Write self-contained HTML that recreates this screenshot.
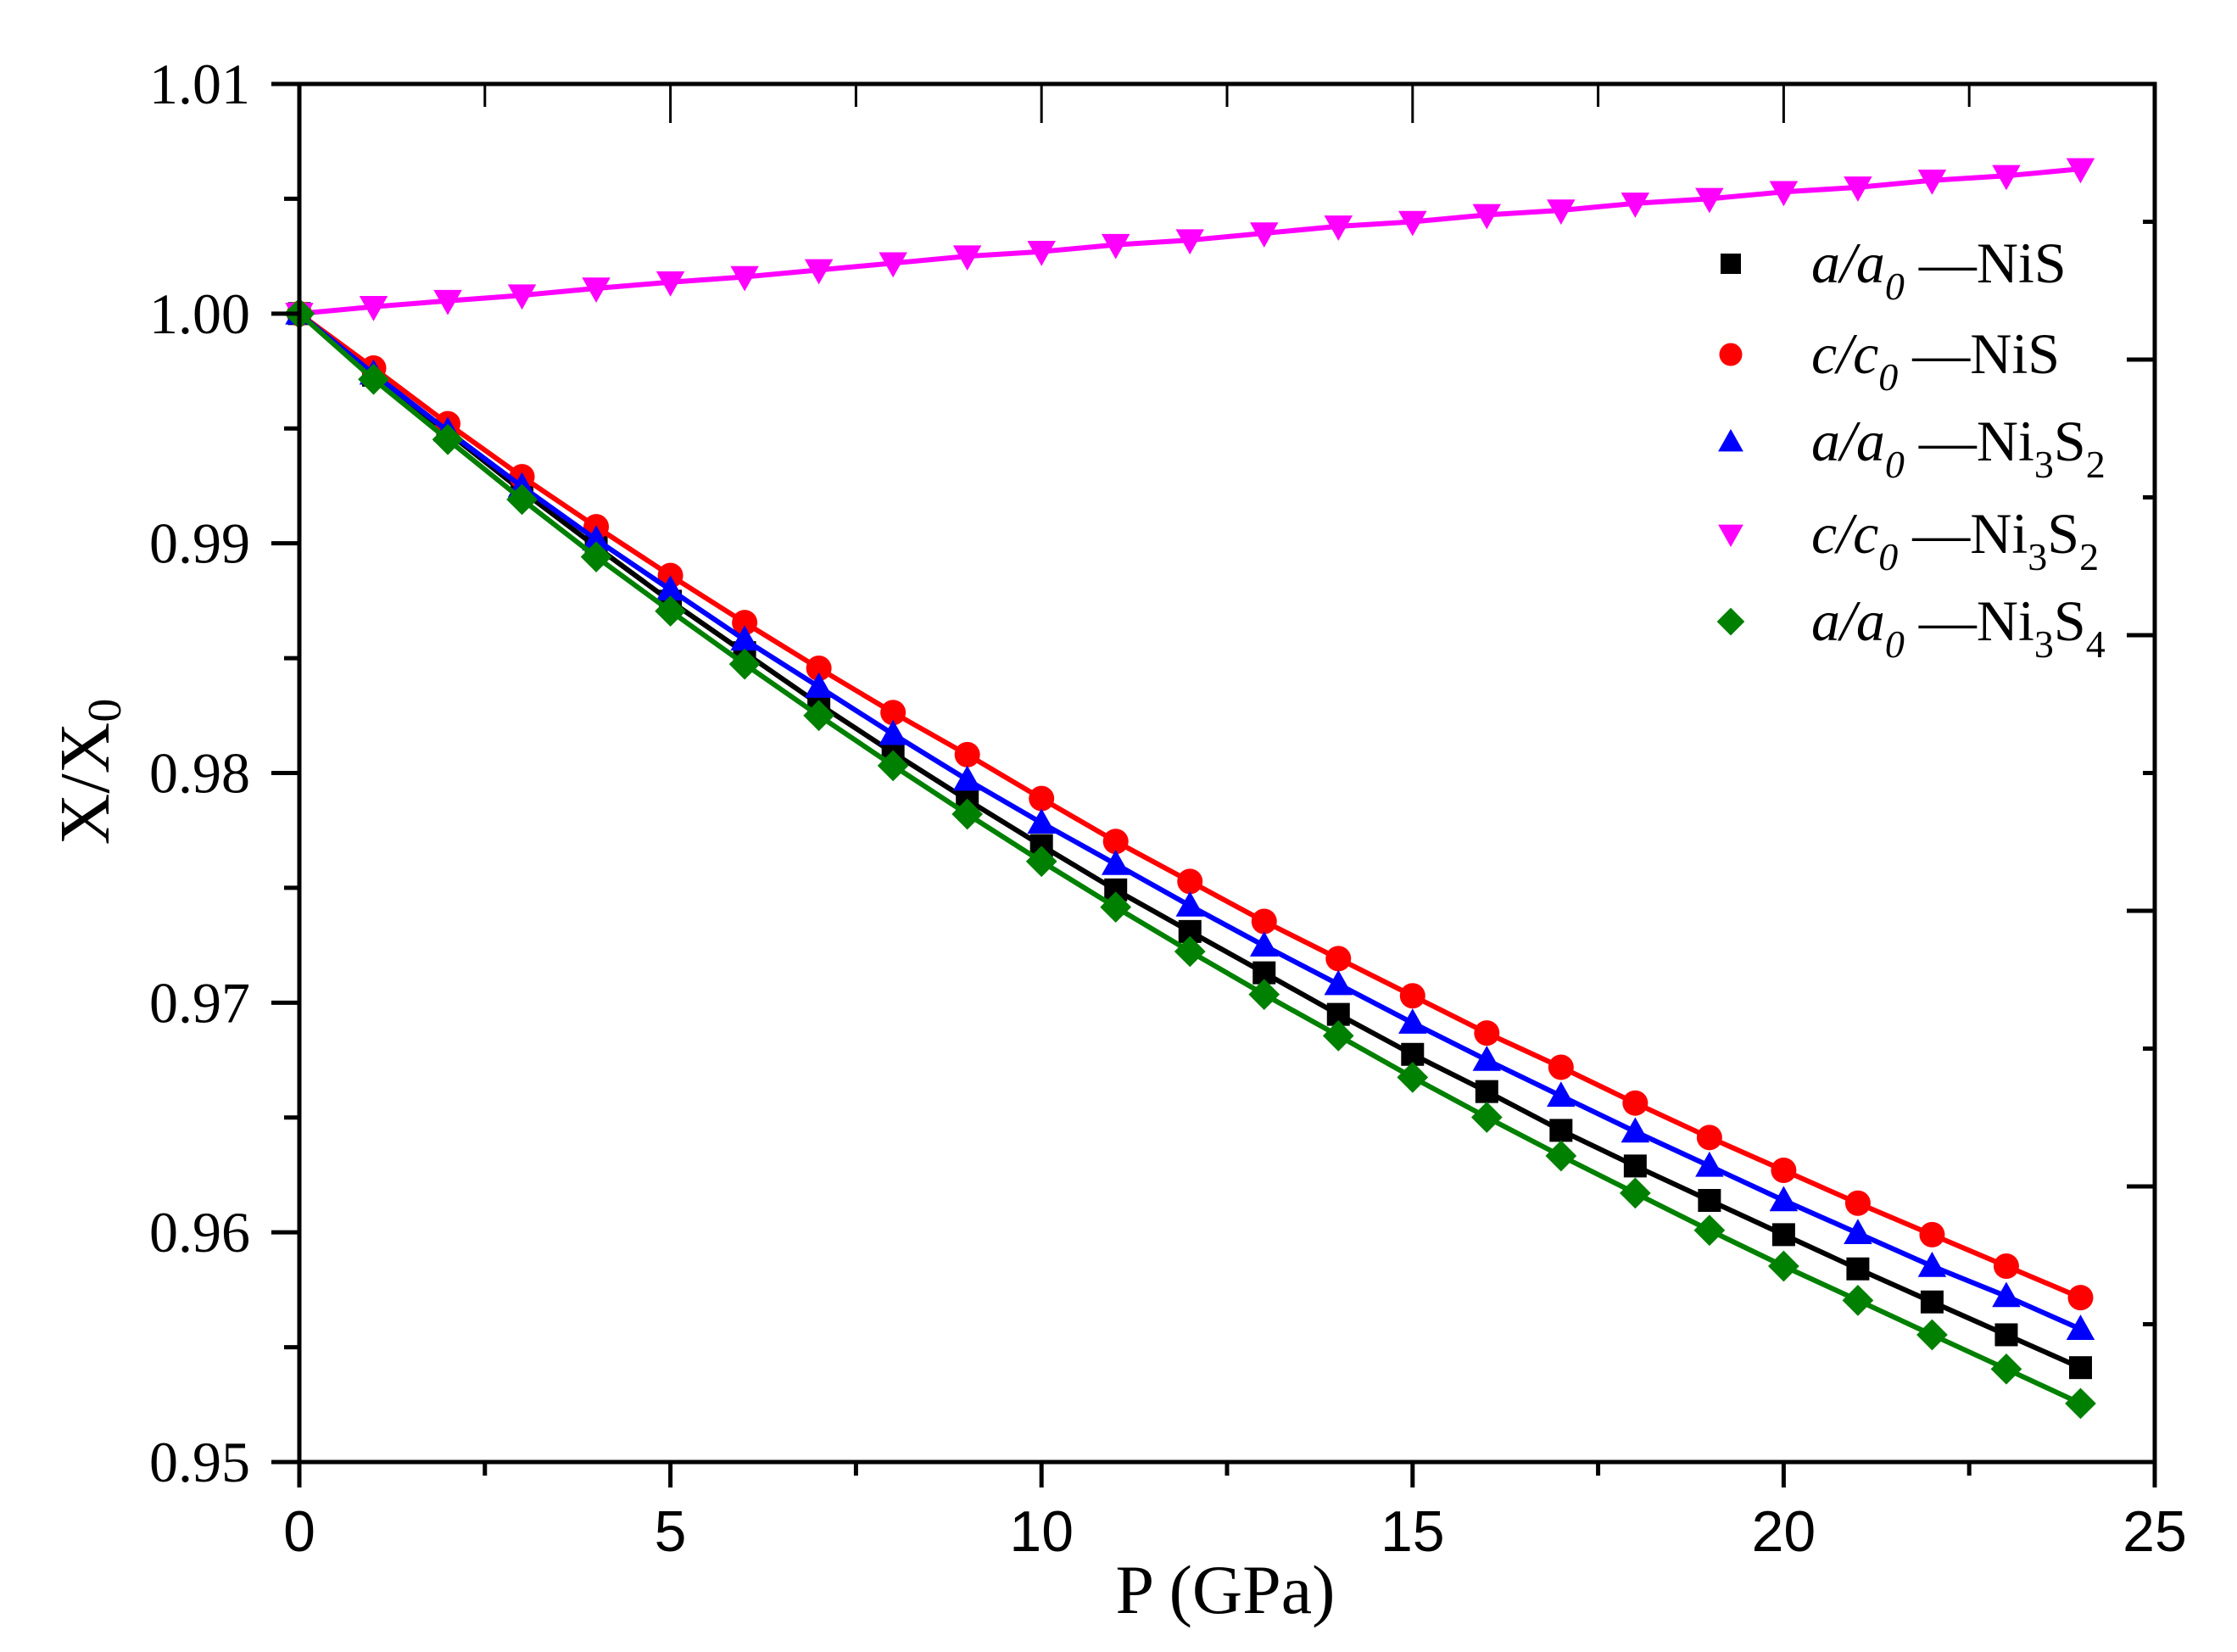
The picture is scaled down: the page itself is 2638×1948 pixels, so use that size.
<!DOCTYPE html>
<html>
<head>
<meta charset="utf-8">
<style>
  html,body{margin:0;padding:0;background:#fff;}
  svg{display:block;}
  .tnr{font-family:"Liberation Serif",serif;}
  .ari{font-family:"Liberation Sans",sans-serif;}
</style>
</head>
<body>
<svg id="chart" width="2638" height="1948" viewBox="0 0 2638 1948" xmlns="http://www.w3.org/2000/svg">
  <rect x="0" y="0" width="2638" height="1948" fill="#fff"/>
  <g id="series-layer"></g>
  <g id="axes-layer"></g>
  <text class="tnr" x="1445" y="1902" font-size="82" text-anchor="middle">P (GPa)</text>
  <text class="tnr" font-size="84" text-anchor="middle" transform="translate(128,910) rotate(-90)">X/X<tspan font-size="56" dy="14">0</tspan></text>
  <g id="legend"></g>
</svg>
<script>
const pressures = [0,1,2,3,4,5,6,7,8,9,10,11,12,13,14,15,16,17,18,19,20,21,22,23,24];
const aNiS = [1.0000,0.99732,0.99483,0.99228,0.98985,0.98748,0.98524,0.98300,0.98088,0.97883,0.97684,0.97491,0.97310,0.97130,0.96949,0.96775,0.96613,0.96444,0.96289,0.96139,0.95990,0.95841,0.95697,0.95554,0.95411];
const cNiS = [1.0000,0.99763,0.99521,0.99290,0.99072,0.98860,0.98655,0.98456,0.98263,0.98080,0.97889,0.97702,0.97528,0.97354,0.97192,0.97030,0.96868,0.96719,0.96563,0.96413,0.96270,0.96127,0.95990,0.95853,0.95716];
const aNi3S2 = [1.0000,0.99738,0.99489,0.99247,0.99016,0.98798,0.98580,0.98375,0.98169,0.97970,0.97783,0.97603,0.97422,0.97248,0.97080,0.96912,0.96750,0.96594,0.96438,0.96289,0.96139,0.95996,0.95853,0.95722,0.95579];
const cNi3S2 = [1.0000,1.0003,1.00056,1.0008,1.0011,1.00137,1.0016,1.0019,1.0022,1.0025,1.0027,1.0030,1.0032,1.0035,1.0038,1.0040,1.0043,1.0045,1.0048,1.0050,1.0053,1.0055,1.0058,1.0060,1.0063];
const aNi3S4 = [1.0000,0.99714,0.99452,0.99191,0.98941,0.98705,0.98474,0.98250,0.98032,0.97821,0.97615,0.97416,0.97223,0.97036,0.96856,0.96675,0.96501,0.96333,0.96171,0.96009,0.95853,0.95704,0.95554,0.95405,0.95255];
const xTickLabels = ["0","5","10","15","20","25"];
const yTickLabels = ["0.95","0.96","0.97","0.98","0.99","1.00","1.01"];

const NS = "http://www.w3.org/2000/svg";
const L = 353, R = 2541, T = 99, B = 1724;
const xMin = 0, xMax = 25, yMin = 0.95, yMax = 1.01;
function sx(v){ return L + (v - xMin) / (xMax - xMin) * (R - L); }
function sy(v){ return B - (v - yMin) / (yMax - yMin) * (B - T); }
function mk(tag, attrs, parent){
  const e = document.createElementNS(NS, tag);
  for (const k in attrs) e.setAttribute(k, attrs[k]);
  parent.appendChild(e);
  return e;
}
function marker(shape, cx, cy, color, parent, s){
  let e;
  if (shape === "square") {
    e = mk("rect", {x: cx - s/2, y: cy - s/2, width: s, height: s, fill: color}, parent);
  } else if (shape === "circle") {
    e = mk("circle", {cx: cx, cy: cy, r: s/2 + 1.5, fill: color}, parent);
  } else if (shape === "up") {
    const h = s * 1.05;
    e = mk("polygon", {points: `${cx},${cy - h*0.6} ${cx - s*0.62},${cy + h*0.45} ${cx + s*0.62},${cy + h*0.45}`, fill: color}, parent);
  } else if (shape === "down") {
    const h = s * 1.05;
    e = mk("polygon", {points: `${cx},${cy + h*0.6} ${cx - s*0.62},${cy - h*0.45} ${cx + s*0.62},${cy - h*0.45}`, fill: color}, parent);
  } else {
    const d = s * 0.68;
    e = mk("polygon", {points: `${cx},${cy - d} ${cx + d},${cy} ${cx},${cy + d} ${cx - d},${cy}`, fill: color}, parent);
  }
  return e;
}

const seriesLayer = document.getElementById("series-layer");
const seriesList = [
  {name: "a-a0-nis", vals: aNiS, color: "#000000", shape: "square"},
  {name: "c-c0-nis", vals: cNiS, color: "#ff0000", shape: "circle"},
  {name: "a-a0-ni3s2", vals: aNi3S2, color: "#0000ff", shape: "up"},
  {name: "c-c0-ni3s2", vals: cNi3S2, color: "#ff00ff", shape: "down"},
  {name: "a-a0-ni3s4", vals: aNi3S4, color: "#008000", shape: "diamond"}
];
seriesList.forEach(function(s){
  const g = mk("g", {}, seriesLayer);
  
  
  const pts = s.vals.map(function(v, i){ return sx(pressures[i]).toFixed(1) + "," + sy(v).toFixed(1); }).join(" ");
  const line = mk("polyline", {points: pts, fill: "none", stroke: s.color, "stroke-width": 6, "stroke-linejoin": "round"}, g);
  
  
  s.vals.forEach(function(v, i){
    const m = marker(s.shape, sx(pressures[i]), sy(v), s.color, g, 27);
    
    
  });
});

const ax = document.getElementById("axes-layer");
const frame = mk("rect", {x: L, y: T, width: R - L, height: B - T, fill: "none", stroke: "#000", "stroke-width": 5}, ax);


for (let k = 0; k <= 10; k++) {
  const v = k * 2.5, x = sx(v), major = (k % 2 === 0);
  const tb = mk("line", {x1: x, y1: B, x2: x, y2: B + (major ? 30 : 16), stroke: "#000", "stroke-width": 5}, ax);
  
  
  if (k > 0 && k < 10) {
    const tt = mk("line", {x1: x, y1: T, x2: x, y2: T + (major ? 46 : 27), stroke: "#000", "stroke-width": 3}, ax);
    
    
  }
}
xTickLabels.forEach(function(lab, i){
  const t = mk("text", {x: sx(i * 5), y: 1829, "font-size": 68, "text-anchor": "middle", class: "ari"}, ax);
  t.textContent = lab;
  
  
});
for (let k = 0; k <= 12; k++) {
  const v = yMin + k * 0.005, y = sy(v), major = (k % 2 === 0);
  const tl = mk("line", {x1: L, y1: y, x2: L - (major ? 33 : 18), y2: y, stroke: "#000", "stroke-width": 5}, ax);
  
  
}
yTickLabels.forEach(function(lab, i){
  const t = mk("text", {x: 295, y: sy(yMin + i * 0.01) + 23, "font-size": 68, "text-anchor": "end", class: "tnr"}, ax);
  t.textContent = lab;
  
  
});
for (let k = 1; k < 10; k++) {
  const y = T + k * (B - T) / 10, major = (k % 2 === 0);
  const tr = mk("line", {x1: R, y1: y, x2: R - (major ? 33 : 14), y2: y, stroke: "#000", "stroke-width": 5}, ax);
  
  
}

const lg = document.getElementById("legend");
const legendRows = [
  {y: 311, shape: "square", color: "#000000", v: "a", sub: "NiS"},
  {y: 418, shape: "circle", color: "#ff0000", v: "c", sub: "NiS"},
  {y: 521, shape: "up", color: "#0000ff", v: "a", sub: "Ni3S2"},
  {y: 630, shape: "down", color: "#ff00ff", v: "c", sub: "Ni3S2"},
  {y: 733, shape: "diamond", color: "#008000", v: "a", sub: "Ni3S4"}
];
legendRows.forEach(function(r){
  const g = mk("g", {}, lg);
  
  
  const m = marker(r.shape, 2041, r.y, r.color, g, 24);
  
  
  const t = mk("text", {x: 2136, y: r.y + 22, "font-size": 68, class: "tnr"}, g);
  
  
  let html = '<tspan font-style="italic">' + r.v + '/' + r.v + '</tspan><tspan font-style="italic" font-size="46" dy="20">0</tspan><tspan dy="-20"> \u2014</tspan>';
  if (r.sub === "NiS") html += '<tspan>NiS</tspan>';
  else {
    const n = r.sub.charAt(4);
    html += '<tspan>Ni</tspan><tspan font-size="46" dy="20">3</tspan><tspan dy="-20">S</tspan><tspan font-size="46" dy="20">' + n + '</tspan>';
  }
  t.innerHTML = html;
});
</script>
</body>
</html>
